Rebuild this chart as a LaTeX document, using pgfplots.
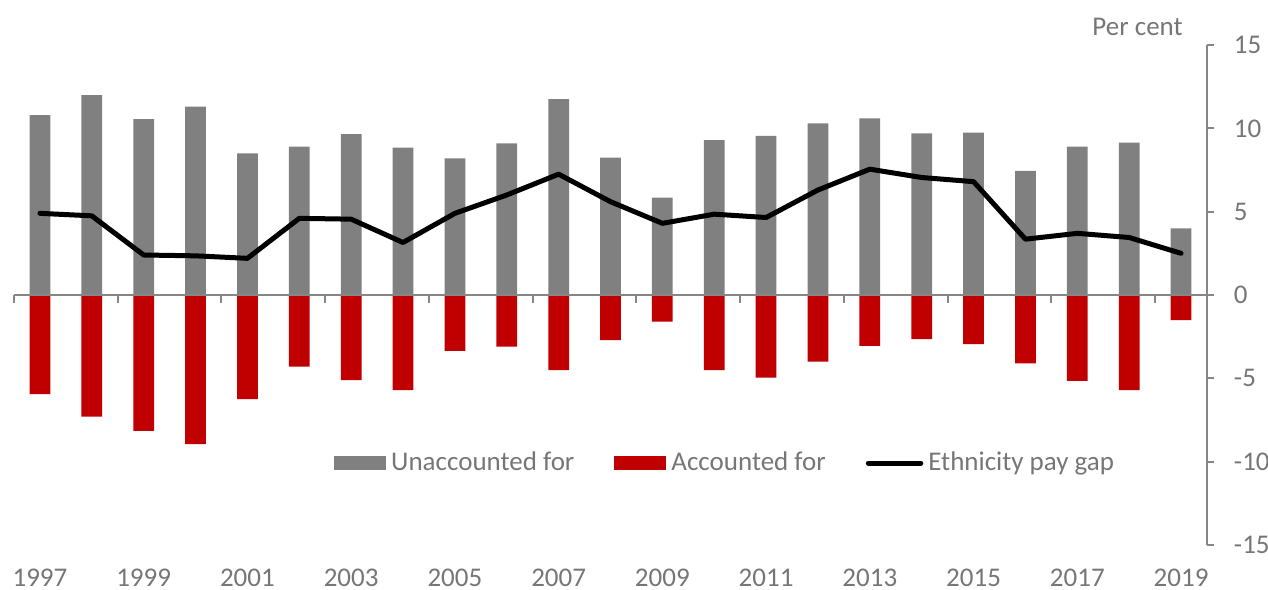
\documentclass[border=0pt]{standalone}
\usepackage{fontspec}
\setmainfont{Carlito}
\usepackage{pgfplots}
\usepackage{pgfplotstable}
\pgfplotsset{compat=1.18}
\definecolor{barGray}{RGB}{128,128,128}
\definecolor{barRed}{RGB}{192,0,0}
\definecolor{txtGray}{RGB}{118,118,118}
\definecolor{axGray}{RGB}{134,134,134}

\pgfplotstableread{
idx unacc acc gap
0  10.8  -5.95 4.9
1  12.0  -7.3  4.75
2  10.55 -8.15 2.4
3  11.3  -8.95 2.35
4  8.5   -6.25 2.2
5  8.9   -4.3  4.6
6  9.65  -5.1  4.55
7  8.85  -5.7  3.15
8  8.2   -3.35 4.9
9  9.1   -3.1  6.0
10 11.75 -4.5  7.25
11 8.25  -2.7  5.6
12 5.85  -1.6  4.3
13 9.3   -4.5  4.85
14 9.55  -4.95 4.65
15 10.3  -4.0  6.3
16 10.6  -3.05 7.55
17 9.7   -2.65 7.05
18 9.75  -2.95 6.8
19 7.45  -4.1  3.35
20 8.9   -5.15 3.7
21 9.15  -5.7  3.45
22 4.0   -1.5  2.5
}\paydata

\begin{document}
\fontsize{10.8}{12.5}\selectfont
\begin{tikzpicture}
\useasboundingbox (-5.6pt,-18pt) rectangle (501.6pt,218pt);
\begin{axis}[
    at={(0pt,0pt)}, anchor=south west,
    scale only axis, width=477.2pt, height=200pt,
    clip=false,
    xmin=-0.5, xmax=22.5, ymin=-15, ymax=15,
    axis y line*=right, axis x line*=bottom,
    x axis line style={draw=none},
    y axis line style={draw=axGray, line width=0.8pt},
    xtick={0,2,...,22},
    xticklabels={1997,1999,2001,2003,2005,2007,2009,2011,2013,2015,2017,2019},
    x tick style={draw=none},
    ytick={-15,-10,...,15},
    yticklabels={-15,-10,-5,0,5,10,15},
    y tick style={draw=axGray, line width=0.8pt},
    tick align=outside, major tick length=3pt,
    tick label style={font=\fontsize{10.8}{12.5}\selectfont, text=txtGray},
    yticklabel style={anchor=west, xshift=4pt},
    xticklabel style={yshift=-2.8pt},
    legend columns=3,
    legend style={at={(0.268,0.164)}, anchor=west, draw=none, fill=none,
        inner sep=0pt, font=\fontsize{10.8}{12.5}\selectfont, text=txtGray,
        /tikz/every even column/.append style={column sep=14pt}},
]
\addplot[ybar, bar width=8.3pt, bar shift=0pt, fill=barGray, draw=none,
    legend image code/.code={\fill[barGray] (0pt,-2.9pt) rectangle (20.8pt,2.9pt);}]
    table[x=idx,y=unacc]{\paydata};
\addlegendentry{Unaccounted for}
\addplot[ybar, bar width=8.3pt, bar shift=0pt, fill=barRed, draw=none,
    legend image code/.code={\fill[barRed] (0pt,-2.9pt) rectangle (20.8pt,2.9pt);}]
    table[x=idx,y=acc]{\paydata};
\addlegendentry{Accounted for}
\draw[axGray, line width=1pt] (axis cs:-0.5,0) -- (axis cs:22.5,0);
\pgfplotsinvokeforeach{-0.5,1.5,...,21.5}{
  \draw[axGray, line width=0.8pt] (axis cs:#1,0) -- ++(0pt,-3.2pt);
}
\addplot[black, line width=2pt, line cap=round, line join=round, mark=none,
    legend image code/.code={\draw[black,line width=2pt,line cap=round] (0pt,0pt) -- (21pt,0pt);}]
    table[x=idx,y=gap]{\paydata};
\addlegendentry{Ethnicity pay gap}
\node[anchor=east, text=txtGray, inner sep=0pt] at (rel axis cs:0.98,1.036) {Per cent};
\end{axis}
\end{tikzpicture}
\end{document}
